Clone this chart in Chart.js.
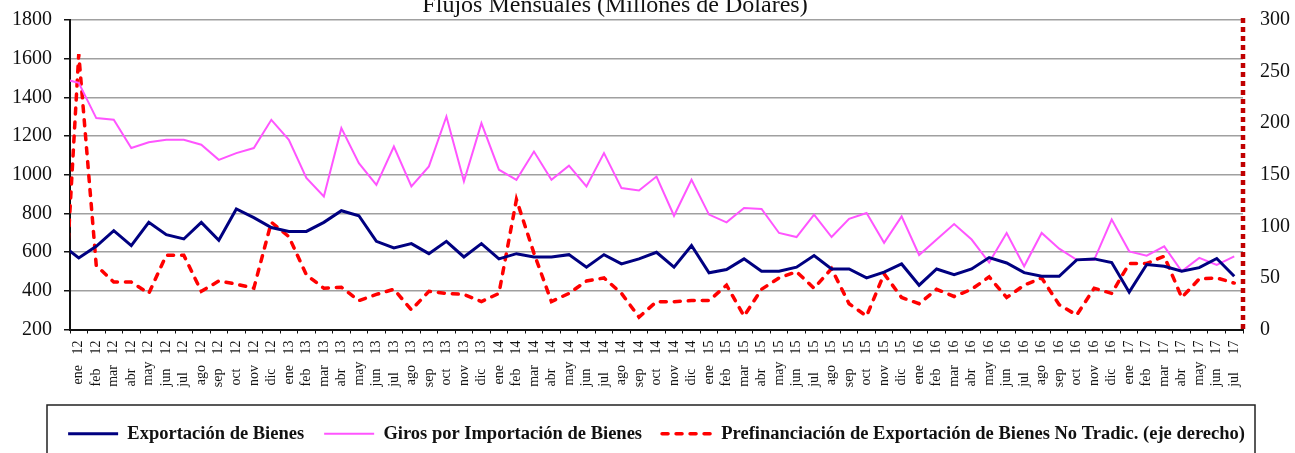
<!DOCTYPE html>
<html lang="es">
<head>
<meta charset="utf-8">
<title>Flujos Mensuales</title>
<script src="https://cdn.jsdelivr.net/npm/chart.js@4.4.1/dist/chart.umd.min.js"></script>
<style>
  html, body { margin: 0; padding: 0; background: #fff; }
  #wrap { width: 1295px; height: 453px; position: relative; }
</style>
</head>
<body>
<div id="wrap"><canvas id="flujos" width="1295" height="453"></canvas></div>
<script>
// dic 11 queda fuera del eje: solo se ve el tramo de línea que entra al gráfico
const meses = [
  'dic 11',
  'ene 12', 'feb 12', 'mar 12', 'abr 12', 'may 12', 'jun 12', 'jul 12', 'ago 12', 'sep 12', 'oct 12', 'nov 12', 'dic 12',
  'ene 13', 'feb 13', 'mar 13', 'abr 13', 'may 13', 'jun 13', 'jul 13', 'ago 13', 'sep 13', 'oct 13', 'nov 13', 'dic 13',
  'ene 14', 'feb 14', 'mar 14', 'abr 14', 'may 14', 'jun 14', 'jul 14', 'ago 14', 'sep 14', 'oct 14', 'nov 14', 'dic 14',
  'ene 15', 'feb 15', 'mar 15', 'abr 15', 'may 15', 'jun 15', 'jul 15', 'ago 15', 'sep 15', 'oct 15', 'nov 15', 'dic 15',
  'ene 16', 'feb 16', 'mar 16', 'abr 16', 'may 16', 'jun 16', 'jul 16', 'ago 16', 'sep 16', 'oct 16', 'nov 16', 'dic 16',
  'ene 17', 'feb 17', 'mar 17', 'abr 17', 'may 17', 'jun 17', 'jul 17'
];

// millones de dólares
const exportacion = [640,
  570, 630, 711, 634, 754, 690, 668, 754, 661, 823, 778, 727,
  707, 707, 754, 814, 788, 656, 622, 644, 592, 656, 575, 644,
  565, 592, 575, 575, 587, 522, 587, 539, 565, 599, 522, 634,
  493, 510, 565, 501, 501, 522, 582, 513, 513, 467, 497, 539,
  429, 513, 484, 513, 572, 544, 494, 475, 475, 560, 565, 546,
  393, 536, 527, 501, 520, 567, 475];

const giros = [1498,
  1475, 1293, 1284, 1138, 1168, 1181, 1181, 1155, 1077, 1112, 1138, 1284,
  1181, 983, 888, 1241, 1060, 948, 1146, 940, 1043, 1301, 966, 1267,
  1026, 974, 1120, 974, 1047, 940, 1112, 931, 919, 991, 788, 974,
  794, 754, 828, 823, 699, 678, 794, 678, 772, 802, 648, 785,
  585, 665, 745, 665, 546, 699, 527, 699, 618, 560, 560, 768,
  604, 582, 630, 501, 570, 534, 578];

// eje derecho
const prefinanciacion = [-35,
  267, 62, 46, 46, 35, 72, 72, 37, 47, 44, 40, 104,
  90, 53, 40, 41, 28, 34, 39, 19, 37, 35, 34, 27,
  35, 126, 74, 27, 35, 47, 50, 35, 12, 27, 27, 28,
  28, 43, 13, 39, 50, 56, 40, 59, 25, 13, 54, 31,
  25, 39, 32, 39, 51, 31, 43, 50, 24, 14, 40, 35,
  64, 64, 71, 31, 49, 50, 45];

const ticksIzq = [200, 400, 600, 800, 1000, 1200, 1400, 1600, 1800];
const ticksDer = [0, 50, 100, 150, 200, 250, 300];

const SERIF = '"Liberation Serif", "Times New Roman", serif';

// el mes queda abajo y el año arriba: se rellena con espacios hasta un ancho fijo
const medidor = document.createElement('canvas').getContext('2d');
medidor.font = '14px ' + SERIF;
const ANCHO_ETIQ = 47;
function etiquetaMes(txt) {
  const [mes, anio] = txt.split(' ');
  let esp = ' ';
  while (medidor.measureText(mes + esp + ' ' + anio).width <= ANCHO_ETIQ) esp += ' ';
  return mes + esp + anio;
}

const titulo = {
  id: 'titulo',
  afterDraw(chart) {
    const c = chart.ctx;
    c.save();
    c.font = '24px ' + SERIF;
    c.fillStyle = '#111';
    c.textAlign = 'center';
    c.textBaseline = 'alphabetic';
    c.fillText('Flujos Mensuales (Millones de Dólares)', 615, 12);
    c.restore();
  }
};

// la leyenda va centrada sobre el área del gráfico, no sobre todo el lienzo
const centrarLeyenda = {
  id: 'centrarLeyenda',
  afterLayout(chart) {
    const a = chart.chartArea, lg = chart.legend;
    const dx = (a.left + a.right) / 2 - (lg.left + lg.right) / 2;
    lg.left += dx;
    lg.right += dx;
  }
};

// eje derecho punteado en rojo oscuro y recuadro de la leyenda
const adornos = {
  id: 'adornos',
  afterDraw(chart) {
    const c = chart.ctx, a = chart.chartArea, lg = chart.legend;
    const xd = chart.scales.y1.left;
    c.save();
    c.strokeStyle = '#c00000';
    c.lineWidth = 4.5;
    c.setLineDash([5, 4]);
    c.beginPath();
    c.moveTo(xd, a.top - 2);
    c.lineTo(xd, a.bottom + 2);
    c.stroke();
    c.setLineDash([]);
    c.strokeStyle = '#222';
    c.lineWidth = 1.5;
    c.strokeRect(a.left - 23, lg.top + 0.5, a.right - a.left + 35, 70);
    c.restore();
  }
};

// las muestras de la leyenda copian el trazo de cada serie (grosor y guiones)
function etiquetasLeyenda(chart) {
  const items = Chart.defaults.plugins.legend.labels.generateLabels(chart);
  items.forEach(it => {
    const ds = chart.data.datasets[it.datasetIndex];
    it.strokeStyle = ds.borderColor;
    it.lineWidth = ds.borderWidth;
    it.lineDash = ds.borderDash || [];
    it.lineCap = ds.borderCapStyle || 'butt';
  });
  return items;
}

new Chart(document.getElementById('flujos'), {
  type: 'line',
  data: {
    labels: meses,
    datasets: [{
      label: 'Exportación de Bienes',
      data: exportacion,
      yAxisID: 'y',
      borderColor: '#000080',
      backgroundColor: '#000080',
      borderWidth: 3,
      pointRadius: 0,
      tension: 0
    }, {
      label: 'Giros por Importación de Bienes',
      data: giros,
      yAxisID: 'y',
      borderColor: '#ff55ff',
      backgroundColor: '#ff55ff',
      borderWidth: 2,
      pointRadius: 0,
      tension: 0
    }, {
      label: 'Prefinanciación de Exportación de Bienes No Tradic. (eje derecho)',
      data: prefinanciacion,
      yAxisID: 'y1',
      borderColor: '#ff0000',
      backgroundColor: '#ff0000',
      borderWidth: 3.5,
      borderDash: [6, 8],
      borderCapStyle: 'round',
      pointRadius: 0,
      tension: 0
    }]
  },
  options: {
    responsive: false,
    animation: false,
    layout: { padding: { top: 20, bottom: 0, left: 0, right: 0 } },
    plugins: {
      title: { display: false },
      tooltip: { enabled: false },
      legend: {
        position: 'bottom',
        labels: {
          usePointStyle: true,
          pointStyle: 'line',
          pointStyleWidth: 50,
          boxWidth: 50,
          padding: 20,
          color: '#111',
          font: { family: SERIF, size: 18.5, weight: 'bold' },
          generateLabels: etiquetasLeyenda
        }
      }
    },
    scales: {
      x: {
        min: 'ene 12',
        offset: true,
        afterFit(s) { s.height = 75; },
        border: { color: '#111', width: 2 },
        grid: { drawOnChartArea: false, drawTicks: true, tickLength: 4, tickColor: '#111', offset: true },
        ticks: {
          autoSkip: false,
          minRotation: 90,
          maxRotation: 90,
          padding: 7,
          color: '#111',
          font: { family: SERIF, size: 14 },
          callback(v) { return etiquetaMes(this.getLabelForValue(v)); }
        }
      },
      y: {
        position: 'left',
        min: ticksIzq[0],
        max: ticksIzq[ticksIzq.length - 1],
        afterFit(s) { s.width = 70; },
        border: { color: '#111', width: 2 },
        grid: { color: '#a0a0a0', lineWidth: 1.5, tickLength: 6, tickColor: '#111' },
        ticks: {
          stepSize: ticksIzq[1] - ticksIzq[0],
          padding: 12,
          color: '#111',
          font: { family: SERIF, size: 20, lineHeight: 0.8 },
          callback: v => String(v)
        }
      },
      y1: {
        position: 'right',
        min: ticksDer[0],
        max: ticksDer[ticksDer.length - 1],
        afterFit(s) { s.width = 52; },
        border: { display: false },
        grid: { drawOnChartArea: false, drawTicks: true, tickLength: 8, tickColor: 'rgba(0,0,0,0)' },
        ticks: {
          stepSize: ticksDer[1] - ticksDer[0],
          padding: 9,
          color: '#111',
          font: { family: SERIF, size: 20, lineHeight: 0.8 },
          callback: v => String(v)
        }
      }
    }
  },
  plugins: [titulo, centrarLeyenda, adornos]
});
</script>
</body>
</html>
